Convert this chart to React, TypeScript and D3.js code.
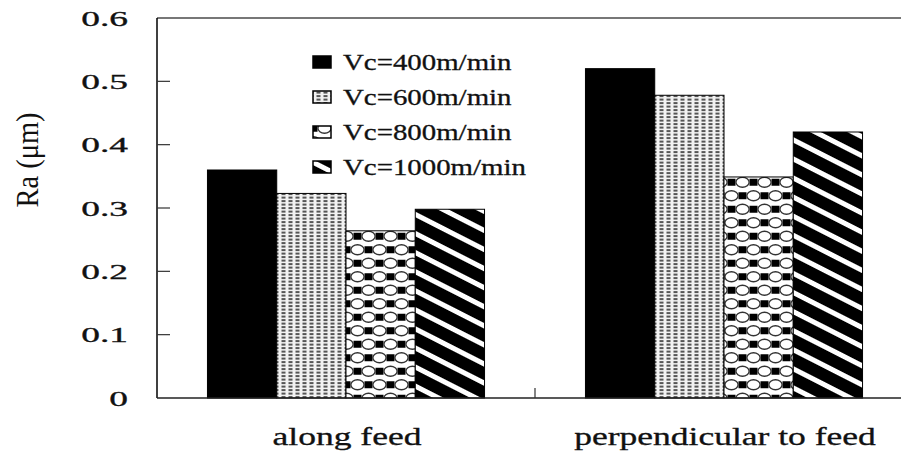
import React, { useEffect, useRef } from "react";
import * as d3 from "d3";

const categories = ["along feed", "perpendicular to feed"];
const seriesNames = ["Vc=400m/min", "Vc=600m/min", "Vc=800m/min", "Vc=1000m/min"];
const ra400 = [0.36, 0.52];
const ra600 = [0.323, 0.478];
const ra800 = [0.264, 0.349];
const ra1000 = [0.298, 0.42];
const yTicks = [0, 0.1, 0.2, 0.3, 0.4, 0.5, 0.6];
const yTickLabels = ["0", "0.1", "0.2", "0.3", "0.4", "0.5", "0.6"];

const FONT = "'Liberation Serif', 'Times New Roman', serif";

export default function App() {
  const ref = useRef<SVGSVGElement>(null);

  useEffect(() => {
    document.body.style.margin = "0";
    const svg = d3.select(ref.current);
    svg.selectAll("*").remove();

    const values = [ra400, ra600, ra800, ra1000];
    const fills = ["#000", "url(#p600)", "url(#p800)", "url(#p1000)"];

    const left = 157, top = 18, bottom = 398;

    const x = d3.scaleBand()
      .domain(categories)
      .range([left, left + 756])
      .paddingInner(0.267)
      .paddingOuter(0.1335);

    const xs = d3.scaleBand()
      .domain(seriesNames)
      .range([0, x.bandwidth()]);

    const y = d3.scaleLinear().domain([0, 0.6]).range([bottom, top]);

    // patterns
    const defs = svg.append("defs");

    const p6 = defs.append("pattern").attr("id", "p600")
      .attr("patternUnits", "userSpaceOnUse").attr("width", 7).attr("height", 7);
    p6.append("rect").attr("width", 7).attr("height", 7).attr("fill", "#f2f2f2");
    [0.6, 4.1].forEach(yy => {
      p6.append("rect").attr("x", 1.5).attr("y", yy).attr("width", 4).attr("height", 2).attr("fill", "#555");
    });

    const p8 = defs.append("pattern").attr("id", "p800")
      .attr("patternUnits", "userSpaceOnUse").attr("width", 22).attr("height", 27);
    p8.append("rect").attr("width", 22).attr("height", 27).attr("fill", "#fff");
    [[16.5, 6.75], [5.5, 20.25]].forEach(([cx, cy]) => {
      p8.append("rect").attr("x", cx - 4).attr("y", cy - 3.5).attr("width", 8).attr("height", 7).attr("fill", "#000");
    });
    [[5.5, 6.75], [16.5, 20.25], [-5.5, 20.25], [27.5, 6.75], [5.5, 33.75], [16.5, -6.75]].forEach(([cx, cy]) => {
      p8.append("ellipse").attr("cx", cx).attr("cy", cy).attr("rx", 6.6).attr("ry", 5)
        .attr("fill", "#fff").attr("stroke", "#333").attr("stroke-width", 1.4);
    });

    const p10 = defs.append("pattern").attr("id", "p1000")
      .attr("patternUnits", "userSpaceOnUse").attr("width", 10).attr("height", 17)
      .attr("patternTransform", "rotate(27)");
    p10.append("rect").attr("width", 10).attr("height", 17).attr("fill", "#000");
    p10.append("rect").attr("y", 0).attr("width", 10).attr("height", 5).attr("fill", "#fff");

    // frame lines
    svg.append("line").attr("x1", left).attr("x2", 901).attr("y1", top).attr("y2", top)
      .attr("stroke", "#777").attr("stroke-width", 2);

    // bars
    const g = svg.append("g");
    seriesNames.forEach((s, si) => {
      g.selectAll(null)
        .data(categories)
        .enter().append("rect")
        .attr("x", (c) => (x(c) as number) + (xs(s) as number))
        .attr("y", (c, i) => y(values[si][i]))
        .attr("width", xs.bandwidth())
        .attr("height", (c, i) => y(0) - y(values[si][i]))
        .attr("fill", fills[si])
        .attr("stroke", "#000")
        .attr("stroke-width", 1);
    });

    // axes
    svg.append("line").attr("x1", left).attr("x2", left).attr("y1", top).attr("y2", bottom)
      .attr("stroke", "#000").attr("stroke-width", 1.5);
    svg.append("line").attr("x1", left).attr("x2", 901).attr("y1", bottom).attr("y2", bottom)
      .attr("stroke", "#222").attr("stroke-width", 1.5);

    svg.selectAll(null).data(yTicks.slice(1, -1)).enter().append("line")
      .attr("x1", left).attr("x2", left + 13)
      .attr("y1", d => y(d)).attr("y2", d => y(d))
      .attr("stroke", "#333").attr("stroke-width", 1.2);

    svg.selectAll(null).data(yTicks).enter().append("text")
      .attr("transform", d => `translate(128,${y(d)}) scale(1.7,1)`)
      .attr("text-anchor", "end")
      .attr("dy", "0.35em")
      .attr("font-family", FONT)
      .attr("font-size", 22)
      .attr("fill", "#111")
      .attr("stroke", "#111")
      .attr("stroke-width", 0.35)
      .text((d, i) => yTickLabels[i]);

    // x tick between groups
    const xTick = left + x.step();
    svg.append("line").attr("x1", xTick).attr("x2", xTick).attr("y1", bottom).attr("y2", bottom - 10)
      .attr("stroke", "#333").attr("stroke-width", 1.2);

    svg.selectAll(null).data(categories).enter().append("text")
      .attr("transform", d => `translate(${(x(d) as number) + x.bandwidth() / 2 + 1},445) scale(1.45,1)`)
      .attr("text-anchor", "middle")
      .attr("font-family", FONT)
      .attr("font-size", 24.5)
      .attr("fill", "#111")
      .attr("stroke", "#111")
      .attr("stroke-width", 0.3)
      .text(d => d);

    // y title
    svg.append("text")
      .attr("transform", "translate(27,160) scale(1.4,1) rotate(-90)")
      .attr("text-anchor", "middle")
      .attr("dy", "0.35em")
      .attr("font-family", FONT)
      .attr("font-size", 22)
      .attr("textLength", 95)
      .attr("lengthAdjust", "spacingAndGlyphs")
      .attr("fill", "#111")
      .text("Ra (μm)");

    // legend
    const legendRows = [62, 97, 132, 167];
    const lg = svg.append("g");
    seriesNames.forEach((s, i) => {
      lg.append("rect")
        .attr("x", 313).attr("y", legendRows[i] - 6)
        .attr("width", 18).attr("height", 12)
        .attr("fill", fills[i]).attr("stroke", "#000").attr("stroke-width", 1.5);
      lg.append("text")
        .attr("transform", `translate(343,${legendRows[i]}) scale(1.3,1)`)
        .attr("dy", "0.35em")
        .attr("font-family", FONT)
        .attr("font-size", 22.2)
        .attr("fill", "#111")
        .attr("stroke", "#111")
        .attr("stroke-width", 0.3)
        .text(s);
    });
  }, []);

  return <svg ref={ref} width={901} height={457} style={{ display: "block", background: "#fff" }} />;
}
